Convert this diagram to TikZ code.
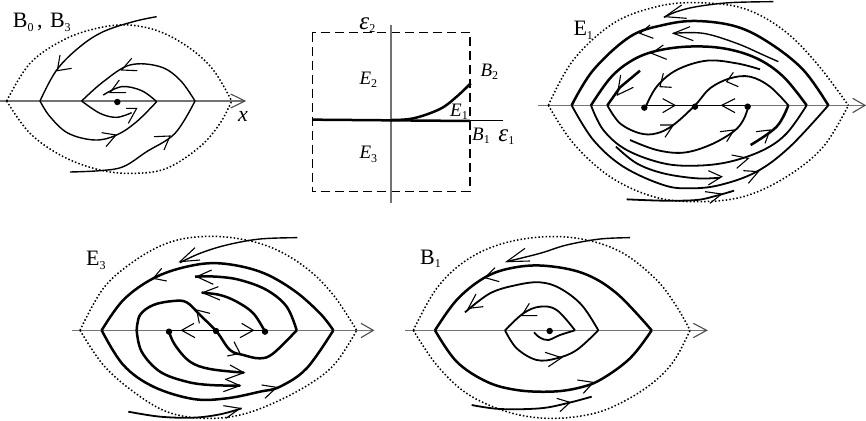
\documentclass[tikz,border=0pt]{standalone}
\usepackage{fontspec}
\setmainfont{Liberation Serif}
\tikzset{
 panel/.style={x=0.33333pt,y=-0.33333pt},
 axisln/.style={draw=black!55,line width=1.3pt},
 dotln/.style={draw=black,line width=1.5pt,dash pattern=on 1.5pt off 2.1pt},
 thinc/.style={draw=black,line width=1.4pt,line join=round},
 medc/.style={draw=black,line width=1.8pt,line join=round},
 thickc/.style={draw=black,line width=2.5pt,line join=round},
 vhead/.style={draw=black,line width=1.1pt,line join=miter},
 lab/.style={inner sep=0pt,font=\fontsize{22}{24}\selectfont},
 mlab/.style={inner sep=0pt,font=\fontsize{19}{22}\selectfont\itshape},
 eps/.style={inner sep=0pt,font=\fontsize{25}{27}\selectfont\itshape},
 sm/.style={smooth,tension=.6}
}
\newcommand{\sub}[1]{\raisebox{-3.5pt}{\fontsize{12}{13}\selectfont\upshape #1}}
\begin{document}
\begin{tikzpicture}
\path[use as bounding box] (0pt,0pt) rectangle (866pt,-420pt);
% ---- Panel B0,B3
\begin{scope}[panel]
\draw[axisln] (0,303) -- (735,303);
\draw[vhead,black!70] (692,282) -- (735,303) -- (692,324);
\draw[dotln] plot[sm] coordinates {(20,303) (90,190) (190,120) (290,85) (385,75) (480,95) (570,145) (640,210) (695,303)};
\draw[dotln] plot[sm] coordinates {(20,303) (90,400) (190,470) (300,510) (400,520) (500,505) (600,440) (660,370) (695,303)};
\draw[thinc] plot[sm] coordinates {(470,50) (400,65) (310,95) (240,140) (170,210) (120,303)};
\draw[thinc] plot[sm] coordinates {(120,303) (150,350) (205,400) (285,420) (350,405) (410,365) (470,305)};
\draw[thinc] plot[sm] coordinates {(245,303) (300,340) (350,352) (395,338)};
\draw[thinc] plot[sm] coordinates {(245,303) (310,245) (390,195) (480,200) (540,240) (585,303)};
\draw[thinc] plot[sm] coordinates {(470,305) (425,272) (365,260) (310,285)};
\draw[thinc] plot[sm] coordinates {(585,303) (525,400) (440,455) (370,500) (300,512) (210,516)};
\draw[vhead] (180,165) -- (172,212) -- (215,205);
\draw[vhead] (395,175) -- (365,210) -- (412,212);
\draw[vhead] (358,240) -- (330,278) -- (378,278) ;
\draw[vhead] (378,325) -- (410,325) -- (385,370);
\draw[vhead] (305,398) -- (348,405) -- (318,440);
\draw[vhead] (462,410) -- (510,408) -- (492,450);
\fill (352,306) circle[radius=3.2pt];
\node[lab,anchor=base west] (l1) at (38,83) {B\sub{0}\,,\,\,B\sub{3}};
\node[mlab,font=\fontsize{22}{24}\selectfont\itshape] (x1) at (729,350) {x};
\end{scope}
% ---- Parameter plane
\begin{scope}[panel,xshift=300pt,yshift=-10pt]
\draw[black,line width=1.4pt,dash pattern=on 9pt off 5pt] (37,68) rectangle (510,545);
\draw[axisln] (273,45) -- (273,578);
\draw[draw=black,line width=1pt] (510,331) -- (610,331);
\draw[draw=black,line width=2.5pt] (37,329) -- (510,333);
\draw[draw=black,line width=2.5pt] plot[sm] coordinates {(273,330) (340,325) (420,297) (470,260) (512,220)};
\node[eps] (e2) at (202,46) {ε\sub{2}};
\node[mlab] (E2) at (205,210) {E\sub{2}};
\node[mlab] (E3) at (205,433) {E\sub{3}};
\node[mlab] (E1) at (477,305) {E\sub{1}};
\node[mlab] (B2) at (568,185) {B\sub{2}};
\node[mlab] (B1) at (543,378) {B\sub{1}};
\node[eps] (e1) at (619,382) {ε\sub{1}};
\end{scope}
% ---- Panel E1
\begin{scope}[panel,xshift=530pt]
\draw[axisln] (25,316) -- (1005,316);
\draw[vhead,black!70] (968,295) -- (1005,316) -- (968,338);
\draw[dotln] plot[sm] coordinates {(55,316) (130,180) (250,70) (380,20) (500,8) (640,25) (760,90) (860,190) (955,316)};
\draw[dotln] plot[sm] coordinates {(55,316) (130,430) (240,530) (370,590) (500,605) (640,590) (770,530) (880,440) (955,316)};
\draw[thinc] plot[sm] coordinates {(730,5) (600,8) (500,20) (440,35) (402,52)};
\draw[thickc] plot[sm] coordinates {(125,316) (190,210) (300,110) (400,75) (500,63) (620,80) (720,130) (820,210) (895,316)};
\draw[medc] plot[sm] coordinates {(125,316) (190,420) (280,500) (400,555) (480,565) (570,555) (680,515) (780,440) (895,316)};
\draw[thinc] plot[sm] coordinates {(430,100) (520,100) (620,130) (700,165) (745,185)};
\draw[thickc] plot[sm] coordinates {(183,316) (240,235) (300,185) (370,155) (470,140) (580,145) (680,175) (760,230) (830,316)};
\draw[medc] plot[sm] coordinates {(183,316) (220,390) (290,450) (400,490) (500,497) (600,485) (700,450) (770,400) (830,316)};
\draw[thickc] (232,316) -- (270,262) -- (330,212);
\draw[medc] plot[sm] coordinates {(232,316) (270,370) (330,400) (380,400) (430,375) (495,316) (540,265) (600,235) (660,230) (720,260) (775,316)};
\draw[thickc] plot[sm] coordinates {(775,316) (740,380) (662,435)};
\draw[medc] plot[sm] coordinates {(345,325) (380,260) (440,210) (530,182) (620,190) (690,208)};
\draw[medc] plot[sm] coordinates {(655,320) (640,360) (610,395) (540,435) (460,458) (380,450) (300,420)};
\draw[medc] plot[sm] coordinates {(258,440) (320,490) (400,520) (500,535) (570,533)};
\draw[medc] plot[sm] coordinates {(290,598) (400,602) (500,600) (560,587) (612,572)};
\draw[draw=black,line width=1.5pt] (345,316) -- (655,316);
\draw[vhead] (455,15) -- (405,50) -- (470,55);
\draw[vhead] (360,75) -- (330,100) -- (370,115);
\draw[vhead] (480,80) -- (430,100) -- (490,122);
\draw[vhead] (400,135) -- (365,160) -- (410,178);
\draw[vhead] (272,225) -- (262,285) -- (310,262);
\draw[vhead] (400,220) -- (390,260) -- (425,262);
\draw[vhead] (610,217) -- (590,245) -- (625,260);
\draw[vhead] (398,296) -- (435,316) -- (398,338);
\draw[vhead] (615,296) -- (575,316) -- (615,338);
\draw[vhead] (390,375) -- (430,375) -- (405,412);
\draw[vhead] (570,395) -- (612,390) -- (590,425);
\draw[vhead] (678,395) -- (720,390) -- (705,430);
\draw[vhead] (605,465) -- (655,475) -- (620,505);
\draw[vhead] (640,512) -- (685,515) -- (655,550);
\draw[vhead] (535,512) -- (575,530) -- (535,555);
\draw[vhead] (525,575) -- (575,582) -- (540,610);
\fill (343,323) circle[radius=3.2pt];
\fill (495,320) circle[radius=3.2pt];
\fill (653,320) circle[radius=3.2pt];
\node[lab,anchor=base west] (l3) at (130,108) {E\sub{1}};
\end{scope}
% ---- Panel E3
\begin{scope}[panel,xshift=60pt,yshift=-225pt]
\draw[axisln] (35,316) -- (940,316);
\draw[vhead,black!70] (903,295) -- (940,316) -- (903,338);
\draw[dotln] plot[sm] coordinates {(60,316) (130,190) (220,110) (320,55) (420,35) (530,40) (640,70) (740,130) (820,210) (890,316)};
\draw[dotln] plot[sm] coordinates {(60,316) (130,420) (220,500) (320,560) (430,580) (540,570) (650,530) (760,470) (830,410) (890,316)};
\draw[thinc] plot[sm] coordinates {(712,38) (600,42) (500,60) (420,85) (360,113)};
\draw[thickc] plot[sm] coordinates {(125,316) (190,225) (280,160) (380,125) (480,115) (600,140) (700,195) (780,265) (820,316)};
\draw[thickc] plot[sm] coordinates {(125,316) (190,420) (280,485) (400,522) (500,520) (600,500) (660,485) (740,430) (820,316)};
\draw[thickc] plot[sm] coordinates {(230,316) (240,270) (280,240) (340,228) (380,232) (420,270) (470,320) (510,375) (550,390) (600,400) (640,385) (710,316)};
\draw[thickc] plot[sm] coordinates {(710,316) (680,245) (620,195) (540,165) (470,155) (405,155)};
\draw[thickc] plot[sm] coordinates {(230,316) (245,380) (300,440) (380,470) (450,480) (540,482)};
\draw[thickc] plot[sm] coordinates {(327,320) (345,360) (390,410) (450,432) (552,443)};
\draw[thickc] plot[sm] coordinates {(615,320) (580,265) (530,230) (480,210) (425,203)};
\draw[medc] plot[sm] coordinates {(205,560) (300,575) (400,578) (480,568) (545,550)};
\draw[draw=black,line width=1.5pt] (327,316) -- (615,316);
\draw[vhead] (405,68) -- (360,110) -- (420,105);
\draw[vhead] (305,130) -- (280,160) -- (320,168);
\draw[vhead] (455,135) -- (410,155) -- (460,178);
\draw[vhead] (475,185) -- (428,203) -- (480,225);
\draw[vhead] (450,265) -- (410,255) -- (418,295);
\draw[vhead] (402,295) -- (365,316) -- (405,338);
\draw[vhead] (545,295) -- (580,316) -- (540,338);
\draw[vhead] (522,350) -- (540,385) -- (502,393);
\draw[vhead] (510,420) -- (552,443) -- (500,462);
\draw[vhead] (495,462) -- (540,482) -- (490,500);
\draw[vhead] (605,480) -- (650,487) -- (615,520);
\draw[vhead] (490,542) -- (540,550) -- (498,580);
\fill (327,320) circle[radius=3.2pt];
\fill (468,318) circle[radius=3.2pt];
\fill (615,320) circle[radius=3.2pt];
\node[lab,anchor=base west] (l4) at (78,122) {E\sub{3}};
\end{scope}
% ---- Panel B1
\begin{scope}[panel,xshift=400pt,yshift=-225pt]
\draw[axisln] (15,316) -- (920,316);
\draw[vhead,black!70] (880,295) -- (920,316) -- (880,338);
\draw[dotln] plot[sm] coordinates {(40,316) (110,190) (200,105) (310,55) (440,35) (560,45) (670,85) (770,165) (830,245) (870,316)};
\draw[dotln] plot[sm] coordinates {(40,316) (110,420) (200,505) (320,560) (440,580) (560,570) (650,540) (750,480) (820,410) (870,316)};
\draw[thinc] plot[sm] coordinates {(690,38) (600,42) (500,60) (420,85) (320,110)};
\draw[thickc] plot[sm] coordinates {(105,316) (170,225) (250,160) (330,130) (430,122) (550,145) (650,205) (755,316)};
\draw[thickc] plot[sm] coordinates {(105,316) (170,410) (260,470) (350,495) (450,500) (530,490) (600,465) (690,400) (755,316)};
\draw[medc] plot[sm] coordinates {(595,316) (545,240) (480,190) (420,172) (350,180) (270,205) (195,262)};
\draw[medc] plot[sm] coordinates {(315,316) (350,370) (410,405) (470,400) (530,375) (595,316)};
\draw[medc] plot[sm] coordinates {(315,316) (370,265) (420,245) (470,255) (525,316)};
\draw[medc] plot[sm] coordinates {(525,316) (480,330) (445,345) (420,338) (402,322)};
\draw[medc] plot[sm] coordinates {(215,540) (300,552) (420,550) (500,535) (575,515)};
\draw[vhead] (375,70) -- (320,110) -- (390,108);
\draw[vhead] (285,128) -- (255,158) -- (298,170);
\draw[vhead] (228,207) -- (205,250) -- (250,245);
\draw[vhead] (388,235) -- (365,272) -- (412,272);
\draw[vhead] (435,382) -- (485,398) -- (445,425);
\draw[vhead] (532,465) -- (580,472) -- (550,505);
\draw[vhead] (470,520) -- (510,532) -- (480,560);
\fill (449,318) circle[radius=3.2pt];
\node[lab,anchor=base west] (l5) at (60,118) {B\sub{1}};
\end{scope}
\end{tikzpicture}
\end{document}
